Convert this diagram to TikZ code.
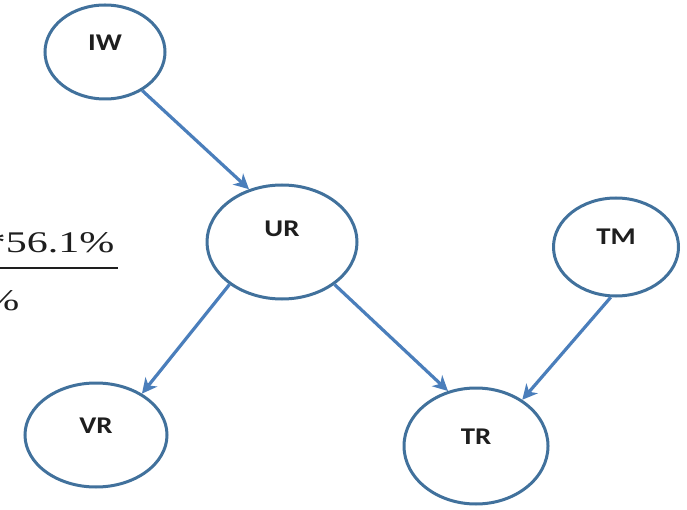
\documentclass[tikz,border=0pt]{standalone}
\usepackage{fontspec}
\newfontfamily\labelfont{Carlito}
\newfontfamily\fracfont{Liberation Serif}
\usetikzlibrary{arrows.meta,shapes.geometric}

\definecolor{ovalline}{HTML}{41719C}
\definecolor{arrowblue}{HTML}{4A7EBB}
\definecolor{inktext}{HTML}{1E1E1E}
\newcommand{\widetext}[1]{\scalebox{1.2}[1]{#1}}
\newcommand{\widefrac}[1]{\scalebox{1.4}[1]{#1}}

\tikzset{
  oval/.style={ellipse, draw=ovalline, line width=3pt, fill=white, inner sep=0pt,
    text=inktext, font=\labelfont\bfseries\fontsize{24}{28}\selectfont, text depth=18pt},
  fracpart/.style={anchor=base east, text=inktext, font=\fracfont\fontsize{30}{36}\selectfont},
  link/.style={draw=arrowblue, line width=3.2pt,
    -{Stealth[length=15pt,width=15pt,inset=4.5pt]}}
}

\begin{document}
\begin{tikzpicture}[x=1pt, y=-1pt]
  \useasboundingbox (0,0) rectangle (687,510);
  \clip (0,0) rectangle (687,510);

  % Fraction cut off at the left edge
  \node[fracpart] (numer) at (118,253) {\widefrac{*56.1\%}};
  \draw[line width=2.8pt, inktext] (-2,268) -- (118,268);
  \node[fracpart] (denom) at (23,310) {\widefrac{\%}};

  % Ovals
  \node[oval, minimum width=120pt, minimum height=94pt] (IW) at (105,52) {\widetext{IW}};
  \node[oval, minimum width=150pt, minimum height=114pt, text depth=26pt] (UR) at (282,242) {\widetext{UR}};
  \node[oval, minimum width=125pt, minimum height=98pt, text depth=20pt] (TM) at (616,247) {\widetext{TM}};
  \node[oval, minimum width=142pt, minimum height=104pt] (VR) at (96,435) {\widetext{VR}};
  \node[oval, minimum width=144pt, minimum height=116pt] (TR) at (476,446) {\widetext{TR}};

  % Arrows
  \draw[link] (IW.-46) -- (UR.122);
  \draw[link] (UR.-141) -- (VR.42);
  \draw[link] (UR.-39) -- (TR.117);
  \draw[link] (TM.-96) -- (TR.45);
\end{tikzpicture}
\end{document}
